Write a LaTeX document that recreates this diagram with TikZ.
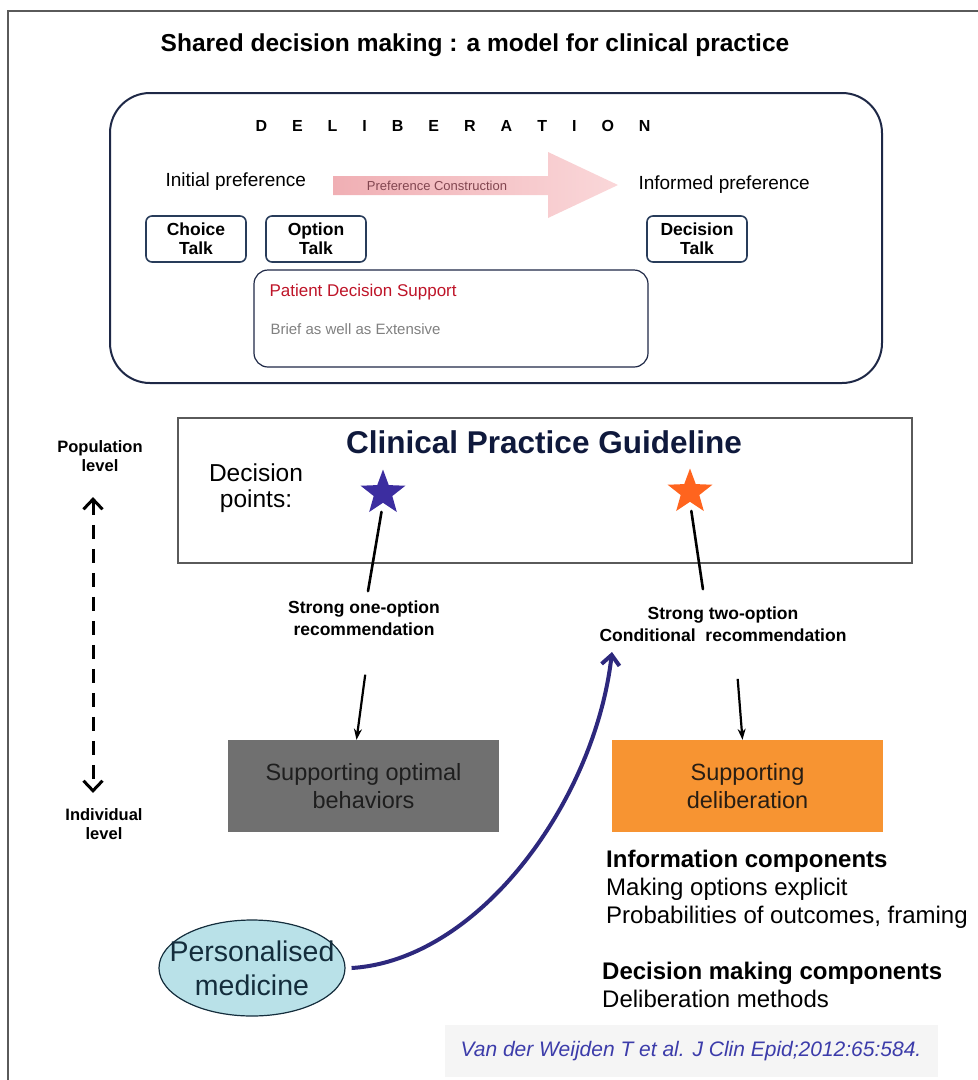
\documentclass[tikz,border=0pt]{standalone}
\usepackage{fontspec}
\setmainfont{Liberation Sans}
\usetikzlibrary{shapes.geometric,arrows.meta,positioning}
\newcommand{\pxfont}[2]{\fontsize{#1pt}{#2pt}\selectfont}
\newcommand{\lgap}{\hspace{25pt}}
\begin{document}
\begin{tikzpicture}[x=1pt, y=-1pt,
    talkbox/.style={draw=talkline, line width=1.6pt, rounded corners=6pt, minimum width=100pt,
        minimum height=46pt, align=center, font=\bfseries\pxfont{17.5}{19}},
    reclabel/.style={align=center, font=\bfseries\pxfont{17.5}{22}},
    stem/.style={line width=2.6pt, line cap=round},
    downarrow/.style={line width=2.2pt, -{Stealth[length=11pt,width=8pt]}},
    actionbox/.style={minimum width=271pt, minimum height=92pt, align=center, font=\pxfont{23.5}{28}},
    decstar/.style={star, star points=5, star point ratio=2.4, minimum size=47pt, inner sep=0pt},
    levellabel/.style={align=center, font=\bfseries\pxfont{16.5}{19}},
    barb/.tip={Straight Barb[length=10pt,width=19pt]}]

    % Define colors
    \definecolor{framegray}{RGB}{90,90,90}
    \definecolor{delibline}{RGB}{30,40,70}
    \definecolor{talkline}{RGB}{40,60,90}
    \definecolor{pdsred}{RGB}{190,20,40}
    \definecolor{navytext}{RGB}{15,25,60}
    \definecolor{starblue}{RGB}{60,45,160}
    \definecolor{starorange}{RGB}{255,100,30}
    \definecolor{boxgray}{RGB}{112,112,112}
    \definecolor{boxorange}{RGB}{247,148,50}
    \definecolor{pmcyan}{RGB}{185,225,232}
    \definecolor{pmtext}{RGB}{20,45,60}
    \definecolor{curveblue}{RGB}{45,40,125}
    \definecolor{citeblue}{RGB}{60,60,170}

    \useasboundingbox (0,0) rectangle (978,1080);

    % Outer frame and title
    \draw[framegray, line width=1.2pt] (8,1080) -- (8,11) -- (978,11);
    \node[font=\bfseries\pxfont{24.5}{28}] (title) at (475,45) {Shared decision making : a model for clinical practice};

    % Deliberation panel
    \node[draw=delibline, line width=2pt, rounded corners=40pt, minimum width=772pt, minimum height=290pt] (delib) at (496,238) {};
    \node[font=\bfseries\pxfont{16}{19}] (delibtitle) at (453,126)
        {D\lgap E\lgap L\lgap I\lgap B\lgap E\lgap R\lgap A\lgap T\lgap I\lgap O\lgap N};
    \node[anchor=west, font=\pxfont{19}{22}] (initial) at (162,182) {Initial preference};
    \node[anchor=west, font=\pxfont{19}{22}] (informed) at (635,185) {Informed preference};
    \shade[left color={rgb,255:red,240;green,175;blue,180}, right color={rgb,255:red,250;green,215;blue,217}]
        (333,176) -- (548,176) -- (548,152) -- (618,185) -- (548,218) -- (548,195) -- (333,195) -- cycle;
    \node[font=\pxfont{13}{15}, text={rgb,255:red,130;green,70;blue,80}] (construct) at (437,186) {Preference Construction};

    \node[talkbox] (choice) at (196,239) {Choice\\Talk};
    \node[talkbox] (option) at (316,239) {Option\\Talk};
    \node[talkbox] (decision) at (697,239) {Decision\\Talk};

    \node[draw=delibline, line width=1.2pt, rounded corners=14pt, minimum width=394pt, minimum height=97pt] (pds) at (451,318.5) {};
    \node[anchor=west, text=pdsred, font=\pxfont{17}{20}] (pdstitle) at (266,292) {Patient Decision Support};
    \node[anchor=west, text=gray, font=\pxfont{15}{17}] (pdstext) at (267,329) {Brief as well as Extensive};

    % Guideline with decision points
    \node[draw=framegray, line width=1.2pt, minimum width=734pt, minimum height=145pt] (cpg) at (545,490.5) {};
    \node[text=navytext, font=\bfseries\pxfont{31.5}{34}] (cpgtitle) at (544,442) {Clinical Practice Guideline};
    \node[align=center, font=\pxfont{24.5}{26}] (points) at (256,488) {Decision\\points:};
    \node[decstar, fill=starblue] (bstar) at (383,493) {};
    \node[decstar, fill=starorange] (ostar) at (690,492) {};

    \node[reclabel] (oneopt) at (364,618) {Strong one-option\\recommendation};
    \node[reclabel] (twoopt) at (723,624) {Strong two-option\\Conditional~~recommendation};
    \draw[stem, shorten <=9pt, shorten >=6pt] (bstar.south) -- ([xshift=3pt]oneopt.north);
    \draw[stem, shorten <=9pt, shorten >=14pt] (ostar.south) -- ([xshift=-18pt]twoopt.north);

    \node[actionbox, fill=boxgray, text={rgb,255:red,30;green,30;blue,30}] (optimal) at (363.5,786) {Supporting optimal\\behaviors};
    \node[actionbox, fill=boxorange, text={rgb,255:red,40;green,30;blue,20}] (support) at (747.5,786) {Supporting\\deliberation};
    \draw[downarrow, shorten <=36pt] ([xshift=6pt]oneopt.south) -- ([xshift=-7pt]optimal.north);
    \draw[downarrow, shorten <=34pt] ([xshift=12pt]twoopt.south) -- ([xshift=-5pt]support.north);

    % Components of deliberation
    \node[anchor=base west, align=left, inner sep=0pt, font=\pxfont{24}{28}] (infocomp) at (606,923)
        {\textbf{Information components}\\Making options explicit\\Probabilities of outcomes, framing};
    \node[anchor=base west, align=left, inner sep=0pt, font=\pxfont{24}{28}] (dmcomp) at (602,1007)
        {\textbf{Decision making components}\\Deliberation methods};

    % Population / individual axis
    \node[levellabel] (poplevel) at (100,456) {Population\\level};
    \node[levellabel] (indlevel) at (104,824) {Individual\\level};
    \draw[line width=3pt, dash pattern=on 14pt off 10pt, barb-barb,
        shorten <=22pt, shorten >=12pt] ([xshift=-7pt]poplevel.south) -- ([xshift=-11pt]indlevel.north);

    % Personalised medicine
    \node[ellipse, draw=pmtext, line width=1.2pt, fill=pmcyan, minimum width=186pt, minimum height=96pt] (pm) at (252,968) {};
    \node[align=center, text=pmtext, font=\pxfont{28.5}{34}] (pmlabel) at (pm.center) {Personalised\\medicine};
    \coordinate (curveend) at (612,652);
    \draw[curveblue, line width=4pt, -{Straight Barb[length=10pt,width=18pt]}]
        ([xshift=6pt]pm.east) .. controls (480,960) and (595,800) .. (curveend);

    % Reference
    \node[fill=gray!8, minimum width=493pt, minimum height=52pt, text=citeblue, font=\itshape\pxfont{21}{24}] (cite) at (691,1051)
        {Van der Weijden T et al. J Clin Epid;2012:65:584.};
\end{tikzpicture}
\end{document}
